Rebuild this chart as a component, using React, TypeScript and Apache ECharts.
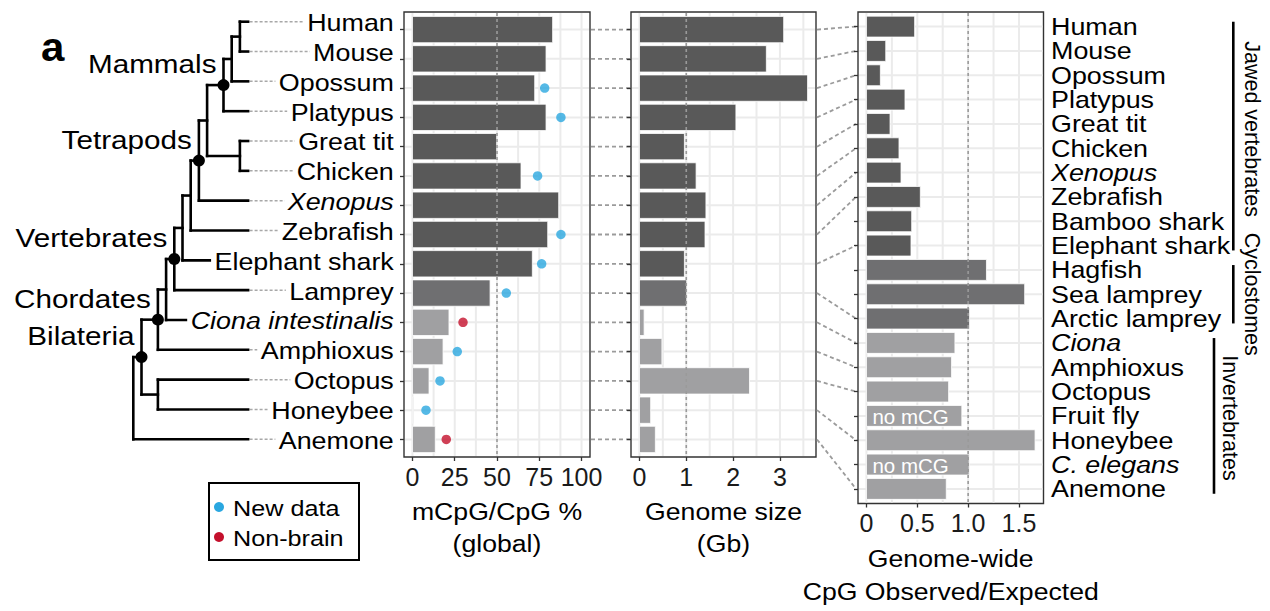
import React, { useEffect, useRef } from "react";
import * as echarts from "echarts";

// ---------------- data ----------------
const species = [
  "Human", "Mouse", "Opossum", "Platypus", "Great tit", "Chicken", "Xenopus",
  "Zebrafish", "Elephant shark", "Lamprey", "Ciona intestinalis", "Amphioxus",
  "Octopus", "Honeybee", "Anemone",
];
const speciesClass = [
  "jawed", "jawed", "jawed", "jawed", "jawed", "jawed", "jawed", "jawed", "jawed",
  "cyclo", "invert", "invert", "invert", "invert", "invert",
];
const mcpgGlobal = [82.9, 79.0, 72.3, 79.0, 49.8, 64.2, 86.5, 80.0, 70.9, 45.9, 21.6, 18.1, 9.8, 0.5, 13.5];
const newDataPoints = [null, null, 78.2, 87.8, null, 74.0, null, 87.8, 76.4, 55.5, null, 26.5, 16.3, 8.0, null];
const nonBrainPoints = [null, null, null, null, null, null, null, null, null, null, 29.9, null, null, null, 20.0];
const genomeSizeGb = [3.08, 2.71, 3.59, 2.06, 0.96, 1.21, 1.42, 1.40, 0.96, 1.01, 0.10, 0.48, 2.35, 0.24, 0.34];

const oeSpecies = [
  "Human", "Mouse", "Opossum", "Platypus", "Great tit", "Chicken", "Xenopus",
  "Zebrafish", "Bamboo shark", "Elephant shark", "Hagfish", "Sea lamprey",
  "Arctic lamprey", "Ciona", "Amphioxus", "Octopus", "Fruit fly", "Honeybee",
  "C. elegans", "Anemone",
];
const oeClass = [
  "jawed", "jawed", "jawed", "jawed", "jawed", "jawed", "jawed", "jawed", "jawed", "jawed",
  "cyclo", "cyclo", "cyclo",
  "invert", "invert", "invert", "invert", "invert", "invert", "invert",
];
const cpgObsExp = [0.474, 0.19, 0.137, 0.379, 0.232, 0.32, 0.34, 0.53, 0.445, 0.438, 1.18, 1.556, 1.014, 0.87, 0.837, 0.808, 0.938, 1.658, 1.01, 0.785];
const oeNotes = ["", "", "", "", "", "", "", "", "", "", "", "", "", "", "", "", "no mCG", "", "no mCG", ""];
const speciesToOe = [0, 1, 2, 3, 4, 5, 6, 7, 9, 12, 13, 14, 15, 17, 19];

const italicNames = ["Xenopus", "Ciona intestinalis", "Ciona", "C. elegans"];

const mcpgTicks = [0, 25, 50, 75, 100];
const mcpgGrid = [0, 12.5, 25, 37.5, 50, 62.5, 75, 87.5, 100];
const genomeTicks = [0, 1, 2, 3];
const genomeGrid = [0, 0.5, 1, 1.5, 2, 2.5, 3, 3.5];
const oeTicks = [0, 0.5, 1, 1.5];
const oeTickLabels = ["0", "0.5", "1.0", "1.5"];
const oeGrid = [0, 0.25, 0.5, 0.75, 1, 1.25, 1.5];
const refLines = [50, 1, 1];

const groupNames = ["Jawed vertebrates", "Cyclostomes", "Invertebrates"];
const groupFirstRow = [0, 10, 13];
const groupLastRow = [9, 12, 19];

const axisTitles = [["mCpG/CpG %", "(global)"], ["Genome size", "(Gb)"], ["Genome-wide", "CpG Observed/Expected"]];
const legendNames = ["New data", "Non-brain"];

// tree topology (children before parents); depth = horizontal level
const treeNodes = [
  { id: "HM", depth: 13, children: ["Human", "Mouse"] },
  { id: "Theria", depth: 12, children: ["HM", "Opossum"] },
  { id: "Mammals", depth: 11, children: ["Theria", "Platypus"] },
  { id: "Birds", depth: 13, children: ["Great tit", "Chicken"] },
  { id: "Amniotes", depth: 9, children: ["Mammals", "Birds"] },
  { id: "Tetrapods", depth: 8, children: ["Amniotes", "Xenopus"] },
  { id: "Osteichthyes", depth: 7, children: ["Tetrapods", "Zebrafish"] },
  { id: "Gnathostomes", depth: 6, children: ["Osteichthyes", "Elephant shark"] },
  { id: "Vertebrates", depth: 5, children: ["Gnathostomes", "Lamprey"] },
  { id: "Olfactores", depth: 4, children: ["Vertebrates", "Ciona intestinalis"] },
  { id: "Chordates", depth: 3, children: ["Olfactores", "Amphioxus"] },
  { id: "Protostomes", depth: 3, children: ["Octopus", "Honeybee"] },
  { id: "Bilateria", depth: 1, children: ["Chordates", "Protostomes"] },
  { id: "Root", depth: 0, children: ["Bilateria", "Anemone"] },
];
const cladeNames = ["Mammals", "Tetrapods", "Vertebrates", "Chordates", "Bilateria"];
const TIP_DEPTH = 14;

// ---------------- styling / layout ----------------
const FONT = "'Liberation Sans', Arial, Helvetica, sans-serif";
const SX = 1.12;
const classColor: Record<string, string> = { jawed: "#595959", cyclo: "#6f6f71", invert: "#a0a0a2" };
const P = [
  { left: 404, top: 12, width: 186, height: 445 },
  { left: 631, top: 12, width: 185, height: 445 },
  { left: 858, top: 12, width: 185.5, height: 491.5 },
];
const TREE = { left: 133.3, top: 21.7, width: 114.8, height: 417.6 };
const LABEL_RIGHT = 396;
const bracketX = [1233.3, 1233.3, 1214];
const bracketTextX = [1251.5, 1251.5, 1230];
const bracketTextShift = [-7, 0, 2];
const blue = "#2aa7e0";
const red = "#c4102c";

function computeTree() {
  const pos: Record<string, { x: number; y: number }> = {};
  species.forEach((s, i) => { pos[s] = { x: TIP_DEPTH, y: i }; });
  const segs: number[][] = [];
  treeNodes.forEach((n) => {
    const ys = n.children.map((c) => pos[c].y);
    const lo = Math.min(...ys);
    const hi = Math.max(...ys);
    pos[n.id] = { x: n.depth, y: (lo + hi) / 2 };
    segs.push([n.depth, lo, n.depth, hi]);
    n.children.forEach((c) => segs.push([n.depth, pos[c].y, pos[c].x, pos[c].y]));
  });
  return { pos, segs };
}

function txtStyle(text: string, size: number, align: string, extra: any = {}) {
  return {
    text, fontSize: size, fontFamily: FONT, fill: "#000",
    align, textAlign: align, verticalAlign: "middle", textVerticalAlign: "middle",
    ...extra,
  };
}

function xAxisFor(gridIndex: number, min: number, max: number, ticks: number[], fmt?: (v: number) => string) {
  return {
    type: "value", gridIndex, min, max,
    axisLine: { show: false, onZero: false },
    axisTick: { show: true, length: 4, customValues: ticks, lineStyle: { color: "#333", width: 1.3 } },
    axisLabel: {
      show: true, customValues: ticks, margin: 7, fontSize: 25, fontFamily: FONT, color: "#1a1a1a",
      formatter: fmt || ((v: number) => String(v)),
    },
    splitLine: { show: false },
  };
}
function yAxisFor(gridIndex: number, n: number) {
  return {
    type: "value", gridIndex, min: -0.6, max: n - 1 + 0.6, inverse: true,
    axisLine: { show: false, onZero: false },
    axisTick: { show: true, length: 4, customValues: Array.from({ length: n }, (_, i) => i), lineStyle: { color: "#333", width: 1.3 } },
    axisLabel: { show: false },
    splitLine: { show: false },
  };
}

function gridLineSeries(gi: number, values: number[], n: number) {
  return [
    {
      type: "custom", xAxisIndex: gi, yAxisIndex: gi, z: 1, silent: true, clip: false,
      data: values.map((v) => [v, 0]),
      renderItem: (params: any, api: any) => {
        const cs = params.coordSys;
        const x = api.coord([api.value(0), 0])[0];
        return { type: "line", shape: { x1: x, y1: cs.y + 1, x2: x, y2: cs.y + cs.height - 1 }, style: { stroke: "#ebebeb", lineWidth: 2 } };
      },
    },
    {
      type: "custom", xAxisIndex: gi, yAxisIndex: gi, z: 1, silent: true, clip: false,
      data: Array.from({ length: n }, (_, i) => [0, i]),
      renderItem: (params: any, api: any) => {
        const cs = params.coordSys;
        const y = api.coord([0, api.value(1)])[1];
        return { type: "line", shape: { x1: cs.x + 1, y1: y, x2: cs.x + cs.width - 1, y2: y }, style: { stroke: "#ebebeb", lineWidth: 2 } };
      },
    },
    {
      type: "custom", xAxisIndex: gi, yAxisIndex: gi, z: 4, silent: true, clip: false,
      data: [[refLines[gi], 0]],
      renderItem: (params: any, api: any) => {
        const cs = params.coordSys;
        const x = api.coord([api.value(0), 0])[0];
        return { type: "line", shape: { x1: x, y1: cs.y + 1, x2: x, y2: cs.y + cs.height - 1 }, style: { stroke: "#9a9a9a", lineWidth: 1.6, lineDash: [3, 3] } };
      },
    },
  ];
}

function barSeries(gi: number, values: number[], classes: string[], frac: number, notes?: string[]) {
  return {
    type: "custom", xAxisIndex: gi, yAxisIndex: gi, z: 3, clip: false,
    data: values.map((v, i) => [v, i]),
    renderItem: (params: any, api: any) => {
      const i = params.dataIndex;
      const row = api.value(1);
      const a = api.coord([0, row]);
      const b = api.coord([api.value(0), row]);
      const h = api.size([0, 1])[1] * frac;
      const children: any[] = [
        { type: "rect", shape: { x: a[0], y: a[1] - h / 2, width: b[0] - a[0], height: h }, style: { fill: classColor[classes[i]], stroke: "#ffffff", lineWidth: 0.8 } },
      ];
      if (notes && notes[i]) {
        children.push({ type: "text", x: a[0] + 6, y: a[1] + 1, style: txtStyle(notes[i], 20.5, "left", { fill: "#ffffff" }) });
      }
      return { type: "group", children };
    },
  };
}

function buildOption() {
  const { pos, segs } = computeTree();
  const series: any[] = [
    ...gridLineSeries(0, mcpgGrid, species.length),
    ...gridLineSeries(1, genomeGrid, species.length),
    ...gridLineSeries(2, oeGrid, oeSpecies.length),
    barSeries(0, mcpgGlobal, speciesClass, 0.9),
    barSeries(1, genomeSizeGb, speciesClass, 0.9),
    barSeries(2, cpgObsExp, oeClass, 0.86, oeNotes),
    {
      type: "scatter", name: legendNames[0], xAxisIndex: 0, yAxisIndex: 0, z: 5, symbolSize: 9.5,
      itemStyle: { color: blue },
      data: newDataPoints.map((v, i) => (v == null ? null : [v, i])).filter((d) => d),
    },
    {
      type: "scatter", name: legendNames[1], xAxisIndex: 0, yAxisIndex: 0, z: 5, symbolSize: 9.5,
      itemStyle: { color: red },
      data: nonBrainPoints.map((v, i) => (v == null ? null : [v, i])).filter((d) => d),
    },
    // right-hand species names for panel 3
    {
      type: "custom", xAxisIndex: 2, yAxisIndex: 2, z: 6, clip: false, silent: true,
      data: oeSpecies.map((_, i) => [0, i]),
      renderItem: (params: any, api: any) => {
        const cs = params.coordSys;
        const i = params.dataIndex;
        const y = api.coord([0, api.value(1)])[1];
        const name = oeSpecies[i];
        return {
          type: "text", x: cs.x + cs.width + 7.5, y: y, scaleX: SX,
          style: txtStyle(name, 24, "left", { fontStyle: italicNames.includes(name) ? "italic" : "normal" }),
        };
      },
    },
    // tree branches
    {
      type: "custom", xAxisIndex: 3, yAxisIndex: 3, z: 3, clip: false, silent: true,
      data: segs,
      renderItem: (params: any, api: any) => {
        const p1 = api.coord([api.value(0), api.value(1)]);
        const p2 = api.coord([api.value(2), api.value(3)]);
        return { type: "line", shape: { x1: p1[0], y1: p1[1], x2: p2[0], y2: p2[1] }, style: { stroke: "#000", lineWidth: 2.6, lineCap: "square" } };
      },
    },
    // dashed tip extensions
    {
      type: "custom", xAxisIndex: 3, yAxisIndex: 3, z: 2, clip: false, silent: true,
      data: species.map((_, i) => [TIP_DEPTH, i]),
      renderItem: (params: any, api: any) => {
        const p = api.coord([api.value(0), api.value(1)]);
        return { type: "line", shape: { x1: p[0] + 1.5, y1: p[1], x2: LABEL_RIGHT - 8, y2: p[1] }, style: { stroke: "#a8a8a8", lineWidth: 1.5, lineDash: [3, 2] } };
      },
    },
    // tip labels
    {
      type: "custom", xAxisIndex: 3, yAxisIndex: 3, z: 6, clip: false, silent: true,
      data: species.map((_, i) => [TIP_DEPTH, i]),
      renderItem: (params: any, api: any) => {
        const p = api.coord([api.value(0), api.value(1)]);
        const name = species[params.dataIndex];
        return {
          type: "text", x: LABEL_RIGHT, y: p[1] + 1, scaleX: SX,
          style: txtStyle(name, 24, "right", {
            fontStyle: italicNames.includes(name) ? "italic" : "normal",
            backgroundColor: "#ffffff", padding: [0, 2, 0, 3],
          }),
        };
      },
    },
    // clade nodes + labels
    {
      type: "custom", xAxisIndex: 3, yAxisIndex: 3, z: 7, clip: false, silent: true,
      data: cladeNames.map((n) => [pos[n].x, pos[n].y]),
      renderItem: (params: any, api: any) => {
        const p = api.coord([api.value(0), api.value(1)]);
        const name = cladeNames[params.dataIndex];
        return {
          type: "group",
          children: [
            { type: "circle", shape: { cx: p[0], cy: p[1], r: 6 }, style: { fill: "#000" } },
            { type: "text", x: p[0] - 7, y: p[1] - 21, scaleX: SX, style: txtStyle(name, 26.5, "right") },
          ],
        };
      },
    },
  ];

  return {
    animation: false,
    backgroundColor: "#ffffff",
    grid: [
      ...P.map((p) => ({ ...p, show: true, borderColor: "#333333", borderWidth: 1.4, backgroundColor: "transparent", containLabel: false, outerBoundsMode: "none" })),
      { ...TREE, show: false, containLabel: false, outerBoundsMode: "none" },
    ],
    xAxis: [
      xAxisFor(0, -5, 105, mcpgTicks),
      xAxisFor(1, -0.18, 3.77, genomeTicks),
      xAxisFor(2, -0.083, 1.741, oeTicks, (v: number) => oeTickLabels[oeTicks.indexOf(v)] ?? String(v)),
      { type: "value", gridIndex: 3, min: 0, max: TIP_DEPTH, show: false },
    ],
    yAxis: [
      yAxisFor(0, species.length),
      yAxisFor(1, species.length),
      yAxisFor(2, oeSpecies.length),
      { type: "value", gridIndex: 3, min: 0, max: species.length - 1, inverse: true, show: false },
    ],
    series,
  };
}

function buildGraphics(chart: any) {
  const px = (gi: number, x: number, y: number) => chart.convertToPixel({ gridIndex: gi }, [x, y]) as number[];
  const els: any[] = [];
  const dash = { stroke: "#9b9b9b", lineWidth: 1.8, lineDash: [4, 3], fill: null };

  species.forEach((_, i) => {
    const y1 = px(0, 0, i)[1];
    els.push({ type: "line", silent: true, shape: { x1: P[0].left + P[0].width + 1, y1, x2: P[1].left - 1, y2: y1 }, style: dash });
    const y3 = px(2, 0, speciesToOe[i])[1];
    els.push({ type: "line", silent: true, shape: { x1: P[1].left + P[1].width + 1, y1, x2: P[2].left - 2, y2: y3 }, style: dash });
  });

  // group brackets on right
  const band = px(2, 0, 1)[1] - px(2, 0, 0)[1];
  groupNames.forEach((g, k) => {
    const ya = px(2, 0, groupFirstRow[k])[1] - 0.2 * band;
    const yb = px(2, 0, groupLastRow[k])[1] + 0.2 * band;
    els.push({ type: "line", silent: true, shape: { x1: bracketX[k], y1: ya, x2: bracketX[k], y2: yb }, style: { stroke: "#000", lineWidth: 2.6 } });
    els.push({
      type: "text", silent: true, x: bracketTextX[k], y: (ya + yb) / 2 + bracketTextShift[k], rotation: -Math.PI / 2,
      style: txtStyle(g, 21.5, "center"),
    });
  });

  // axis titles
  const titleY = [[512, 544], [512, 544], [559, 592]];
  P.forEach((p, k) => {
    axisTitles[k].forEach((t, j) => {
      els.push({ type: "text", silent: true, x: p.left + p.width / 2, y: titleY[k][j], scaleX: SX, style: txtStyle(t, 23.8, "center") });
    });
  });

  // legend
  els.push({ type: "rect", silent: true, shape: { x: 209, y: 483, width: 150, height: 77 }, style: { fill: "none", stroke: "#000", lineWidth: 2 } });
  [blue, red].forEach((c, k) => {
    const y = 507 + k * 30;
    els.push({ type: "circle", silent: true, shape: { cx: 219, cy: y, r: 5 }, style: { fill: c } });
    els.push({ type: "text", silent: true, x: 233, y: y + 1, scaleX: SX, style: txtStyle(legendNames[k], 22.5, "left") });
  });

  // panel letter
  els.push({ type: "text", silent: true, x: 41, y: 47, scaleX: 1.05, style: txtStyle("a", 40, "left", { fontWeight: "bold" }) });

  return els;
}

export default function App() {
  const ref = useRef<HTMLDivElement>(null);
  useEffect(() => {
    const chart = echarts.init(ref.current as HTMLDivElement, null, { renderer: "svg" });
    chart.setOption(buildOption() as any);
    chart.setOption({ graphic: buildGraphics(chart) } as any);
    return () => chart.dispose();
  }, []);
  return (
    <div
      ref={ref}
      style={{ position: "fixed", left: 0, top: 0, width: 1270, height: 611, background: "#ffffff" }}
    />
  );
}
